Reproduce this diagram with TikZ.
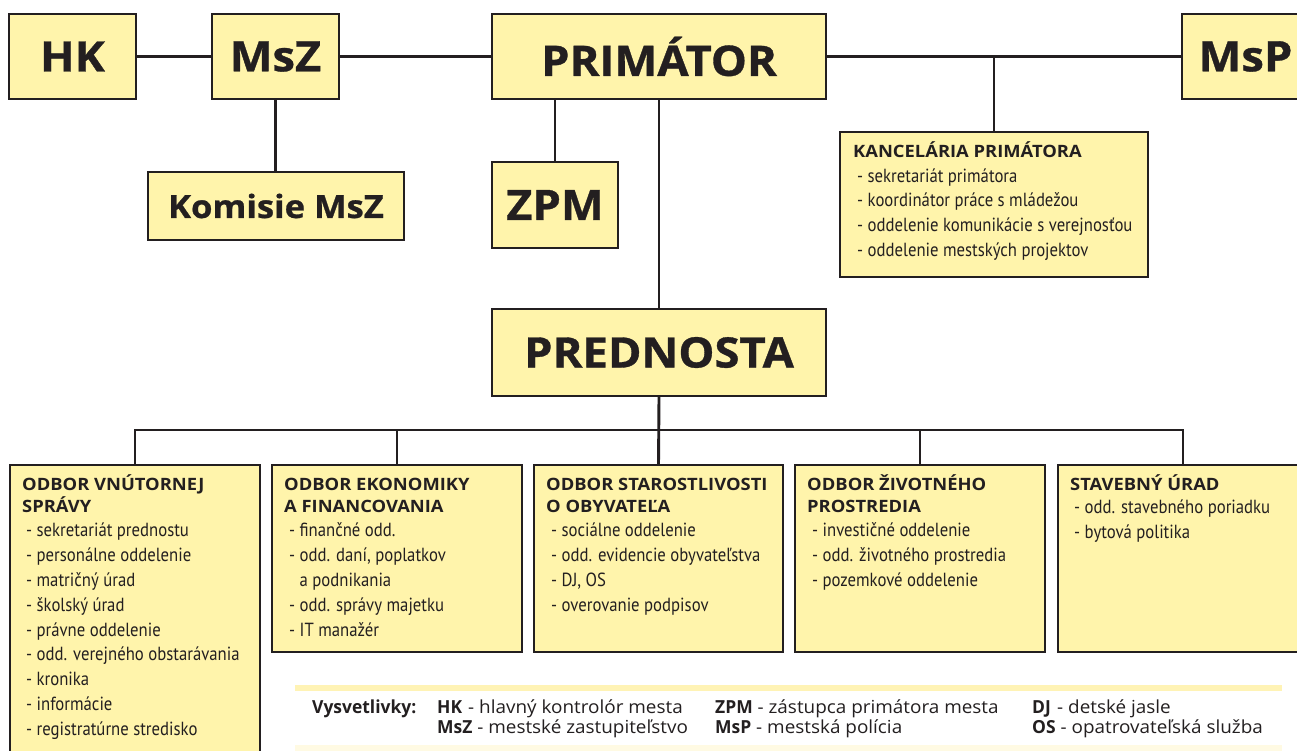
\documentclass[tikz,border=0pt]{standalone}
\usepackage{fontspec}
\setmainfont{Open Sans}
\newfontfamily\condfont[FakeStretch=0.88]{PT Sans}
\newfontfamily\widebold[FakeStretch=1.08]{Open Sans Bold}
\newfontfamily\heavybold[FakeStretch=1.08,FakeBold=0.8]{Open Sans Bold}
\newfontfamily\legfont[FakeStretch=1.05]{Open Sans}
\newfontfamily\legbold[FakeStretch=0.97]{Open Sans Bold}
\definecolor{ink}{HTML}{231F20}
\definecolor{boxfill}{HTML}{FFF4AB}
\definecolor{bandA}{HTML}{FFF3B5}
\definecolor{bandB}{HTML}{FFFAE3}
\tikzset{
  orgbox/.style={draw=ink, fill=boxfill, line width=2.9pt, anchor=north west, inner sep=0pt, outer sep=0pt, text=ink},
  conn/.style={draw=ink, line width=2.9pt, line join=miter},
  bigtext/.style={font=\heavybold\fontsize{42}{50}\selectfont},
  midtext/.style={font=\heavybold\fontsize{32}{36}\selectfont},
  itemtxt/.style={font=\condfont\fontsize{19}{23}\selectfont, text=ink, anchor=base west, inner sep=0pt},
  headtxt/.style={font=\widebold\fontsize{17}{20}\selectfont, text=ink, anchor=base west, inner sep=0pt},
  legtxt/.style={font=\legfont\fontsize{18}{20}\selectfont, text=ink, anchor=base west, inner sep=0pt},
  legb/.style={font=\legbold\fontsize{18}{20}\selectfont, text=ink, anchor=base west, inner sep=0pt},
}
\begin{document}
\begin{tikzpicture}[x=1pt,y=-1pt]
\useasboundingbox (0,0) rectangle (1297,751);
\fill[white] (0,0) rectangle (1297,751);

% top row
\node[orgbox, bigtext, minimum width=127pt, minimum height=85pt] (hk) at (9,14) {HK};
\node[orgbox, bigtext, minimum width=127pt, minimum height=85pt] (msz) at (212,14) {MsZ};
\node[orgbox, bigtext, minimum width=334pt, minimum height=85pt] (prim) at (492,14) {PRIMÁTOR};
\node[orgbox, bigtext, minimum width=127pt, minimum height=85pt] (msp) at (1182,14) {MsP};
\node[orgbox, midtext, minimum width=256pt, minimum height=68pt] (kom) at (148,172) {Komisie MsZ};
\node[orgbox, bigtext, minimum width=126pt, minimum height=86pt] (zpm) at (492,162) {ZPM};
\node[orgbox, minimum width=308pt, minimum height=145pt] (kanc) at (840,132) {};
\node[orgbox, bigtext, minimum width=334pt, minimum height=87pt] (pred) at (492,309) {PREDNOSTA};

% bottom row
\node[orgbox, minimum width=250pt, minimum height=320pt] (o1) at (10,465) {};
\node[orgbox, minimum width=250pt, minimum height=187pt] (o2) at (272,465) {};
\node[orgbox, minimum width=249pt, minimum height=187pt] (o3) at (534,465) {};
\node[orgbox, minimum width=250pt, minimum height=187pt] (o4) at (795,465) {};
\node[orgbox, minimum width=250pt, minimum height=187pt] (o5) at (1058,465) {};

% connectors
\coordinate (bus) at (659,430);
\draw[conn] (hk) -- (msz);
\draw[conn] (msz) -- (prim);
\draw[conn] (prim) -- (msp);
\draw[conn] (msz.south) -- (msz.south |- kom.north);
\draw[conn] (zpm.north) -- (zpm.north |- prim.south);
\draw[conn] (prim.south) -- (pred.north);
\draw[conn] (kanc.north) -- (kanc.north |- prim.east);
\draw[conn] (pred.south) -- (o3.north);
\draw[conn] (o1.north) -- (o1.north |- bus) -- (o5.north |- bus) -- (o5.north);
\draw[conn] (o2.north) -- (o2.north |- bus);
\draw[conn] (o4.north) -- (o4.north |- bus);

% Kancelaria text
\node[headtxt] (kh) at (853,158) {KANCELÁRIA PRIMÁTORA};
\foreach \t [count=\i] in {sekretariát primátora, koordinátor práce s mládežou, oddelenie komunikácie s verejnosťou, oddelenie mestských projektov}
  \node[itemtxt] (k\i) at (857,{158+24.5*\i}) {- \t};

% box 1
\node[headtxt] (h1a) at (22,490) {ODBOR VNÚTORNEJ};
\node[headtxt] (h1b) at (22,512) {SPRÁVY};
\foreach \t [count=\i] in {sekretariát prednostu, personálne oddelenie, matričný úrad, školský úrad, právne oddelenie, odd. verejného obstarávania, kronika, informácie, registratúrne stredisko}
  \node[itemtxt] (a\i) at (26,{512+24.8*\i}) {- \t};

% box 2
\node[headtxt] (h2a) at (284,490) {ODBOR EKONOMIKY};
\node[headtxt] (h2b) at (284,512) {A FINANCOVANIA};
\foreach \t [count=\i] in {- finančné odd., {- odd. daní, poplatkov}, \phantom{- }a podnikania, - odd. správy majetku, - IT manažér}
  \node[itemtxt] (b\i) at (289,{512+24.8*\i}) {\t};

% box 3
\node[headtxt] (h3a) at (546,490) {ODBOR STAROSTLIVOSTI};
\node[headtxt] (h3b) at (546,512) {O OBYVATEĽA};
\foreach \t [count=\i] in {sociálne oddelenie, odd. evidencie obyvateľstva, {DJ, OS}, overovanie podpisov}
  \node[itemtxt] (c\i) at (551,{512+24.8*\i}) {- \t};

% box 4
\node[headtxt] (h4a) at (807,490) {ODBOR ŽIVOTNÉHO};
\node[headtxt] (h4b) at (807,512) {PROSTREDIA};
\foreach \t [count=\i] in {investičné oddelenie, odd. životného prostredia, pozemkové oddelenie}
  \node[itemtxt] (d\i) at (812,{512+24.8*\i}) {- \t};

% box 5
\node[headtxt] (h5a) at (1070,490) {STAVEBNÝ ÚRAD};
\foreach \t [count=\i] in {odd. stavebného poriadku, bytová politika}
  \node[itemtxt] (e\i) at (1074,{488+25*\i}) {- \t};

% legend
\fill[bandA] (295,685) rectangle (1282,691);
\fill[bandB] (295,745) rectangle (1282,751);
\node[legb] (lv) at (312,713) {Vysvetlivky:};
\node[legb] (lhk) at (437,713) {HK};
\node[legtxt] (lhkt) at (468,713) {- hlavný kontrolór mesta};
\node[legtxt] (lmsz) at (437,733) {{\legbold MsZ} - mestské zastupiteľstvo};
\node[legtxt] (lzpm) at (715,713) {{\legbold ZPM} - zástupca primátora mesta};
\node[legtxt] (lmsp) at (715,733) {{\legbold MsP} - mestská polícia};
\node[legb] (ldj) at (1032,713) {DJ};
\node[legtxt] (ldjt) at (1057,713) {- detské jasle};
\node[legtxt] (los) at (1032,733) {{\legbold OS} - opatrovateľská služba};
\end{tikzpicture}
\end{document}
